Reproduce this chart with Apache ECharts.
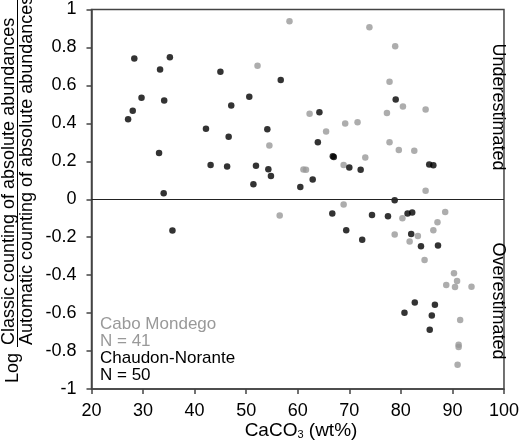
<!DOCTYPE html>
<html>
<head>
<meta charset="utf-8">
<script src="https://cdn.jsdelivr.net/npm/echarts@6/dist/echarts.min.js"></script>
<style>
  html, body { margin: 0; padding: 0; background: #fff; }
  #chart { width: 522px; height: 444px; }
</style>
</head>
<body>
<div id="chart"></div>
<script>
// values: [CaCO3 wt%, log ratio]
const caboMondego = [
  [58.4, 0.938], [52.2, 0.703], [62.3, 0.45], [69.2, 0.399], [71.6, 0.406],
  [65.5, 0.357], [54.5, 0.283], [73.1, 0.22], [68.9, 0.181], [61.1, 0.157],
  [61.6, 0.155], [73.9, 0.906], [78.9, 0.806], [77.8, 0.619], [80.4, 0.489],
  [84.8, 0.473], [77.3, 0.454], [77.8, 0.301], [79.6, 0.26], [82.6, 0.255],
  [84.8, 0.045], [56.5, -0.086], [68.9, -0.028], [80.3, -0.1], [88.6, -0.067],
  [87.1, -0.121], [86.3, -0.164], [78.8, -0.186], [83.3, -0.194], [81.7, -0.223],
  [84.6, -0.32], [90.3, -0.39], [90.9, -0.431], [88.8, -0.452], [90.5, -0.463],
  [93.7, -0.461], [91.5, -0.637], [91.2, -0.767], [91.2, -0.779], [91.0, -0.872]
];

const chaudonNorante = [
  [28.3, 0.742], [35.2, 0.748], [33.3, 0.684], [45.0, 0.672], [29.7, 0.535],
  [34.1, 0.521], [28.0, 0.466], [27.1, 0.421], [42.2, 0.371], [46.6, 0.329],
  [33.1, 0.244], [43.1, 0.181], [46.3, 0.173], [34.0, 0.032], [56.7, 0.628],
  [50.6, 0.54], [47.1, 0.494], [64.2, 0.459], [54.1, 0.369], [63.9, 0.301],
  [67.0, 0.223], [66.8, 0.226], [70.0, 0.167], [72.2, 0.155], [51.9, 0.176],
  [54.3, 0.158], [54.8, 0.123], [51.4, 0.079], [60.5, 0.065], [62.9, 0.104],
  [79.0, 0.526], [85.5, 0.183], [86.3, 0.179], [78.8, -0.005], [35.7, -0.165],
  [66.7, -0.075], [69.4, -0.164], [72.5, -0.213], [74.4, -0.083], [77.5, -0.09],
  [81.3, -0.075], [82.2, -0.07], [82.0, -0.183], [83.9, -0.248], [87.2, -0.244],
  [82.7, -0.544], [86.6, -0.556], [80.7, -0.598], [86.0, -0.612], [85.6, -0.688]
];

const legendLines = [
  { text: "Cabo Mondego", color: "#999999" },
  { text: "N = 41", color: "#999999" },
  { text: "Chaudon-Norante", color: "#000000" },
  { text: "N = 50", color: "#000000" }
];

const font = "Liberation Sans, Arial, sans-serif";
const axisColor = "#444";

const axis_style = {
  axisLine: { show: true, onZero: false, lineStyle: { color: axisColor, width: 1.5 } },
  axisTick: { show: true, inside: false, length: 5, lineStyle: { color: axisColor, width: 1.5 } },
  splitLine: { show: false },
  axisLabel: { color: "#000", fontSize: 18, fontFamily: font }
};

const legendGraphics = legendLines.map((d, i) => ({
  type: "text",
  left: 100,
  top: 316 + i * 17,
  style: { text: d.text, fill: d.color, font: "17px " + font }
}));

const chart = echarts.init(document.getElementById("chart"), null, { renderer: "canvas" });
chart.setOption({
  animation: false,
  grid: {
    show: true,
    left: 91.5, right: 12.5, top: 9.5, bottom: 55,
    borderColor: axisColor,
    borderWidth: 1.5,
    containLabel: false
  },
  xAxis: Object.assign({}, axis_style, {
    type: "value",
    min: 20, max: 100, interval: 10,
    axisLabel: Object.assign({}, axis_style.axisLabel, { margin: 13 })
  }),
  yAxis: Object.assign({}, axis_style, {
    type: "value",
    min: -1, max: 1, interval: 0.2,
    axisLabel: Object.assign({}, axis_style.axisLabel, { margin: 15 })
  }),
  series: [
    {
      name: "Cabo Mondego",
      type: "scatter",
      data: caboMondego,
      symbolSize: 6.5,
      itemStyle: { color: "#999999" },
      markLine: {
        silent: true,
        symbol: "none",
        label: { show: false },
        lineStyle: { color: "#222", type: "solid", width: 1 },
        data: [{ yAxis: 0 }]
      }
    },
    {
      name: "Chaudon-Norante",
      type: "scatter",
      data: chaudonNorante,
      symbolSize: 6.5,
      itemStyle: { color: "#000000" }
    }
  ],
  graphic: [
    {
      type: "text", x: 498, y: 107, rotation: -Math.PI / 2,
      style: { text: "Underestimated", fill: "#000", font: "18px " + font, align: "center", verticalAlign: "middle" }
    },
    {
      type: "text", x: 498, y: 301, rotation: -Math.PI / 2,
      style: { text: "Overestimated", fill: "#000", font: "18px " + font, align: "center", verticalAlign: "middle" }
    },
    {
      type: "text", x: 301, y: 431,
      style: {
        text: "{a|CaCO}{s|3}{a| (wt%)}",
        align: "center", verticalAlign: "middle",
        rich: {
          a: { fontSize: 19, fontFamily: font, fill: "#000" },
          s: { fontSize: 11, fontFamily: font, fill: "#000", padding: [8, 0, 0, 0] }
        }
      }
    },
    {
      type: "text", x: 13, y: 368, rotation: Math.PI / 2,
      style: { text: "Log", fill: "#000", font: "18px " + font, align: "center", verticalAlign: "middle" }
    },
    {
      type: "text", x: 9, y: 345, rotation: Math.PI / 2,
      style: { text: "Classic counting of absolute abundances", fill: "#000", font: "18px " + font, align: "left", verticalAlign: "middle" }
    },
    {
      type: "line", silent: true,
      shape: { x1: 17.5, y1: 0, x2: 17.5, y2: 347 },
      style: { stroke: "#000", lineWidth: 1 }
    },
    {
      type: "text", x: 27.5, y: 345, rotation: Math.PI / 2,
      style: { text: "Automatic counting of absolute abundances", fill: "#000", font: "18px " + font, align: "left", verticalAlign: "middle" }
    }
  ].concat(legendGraphics)
});
</script>
</body>
</html>
